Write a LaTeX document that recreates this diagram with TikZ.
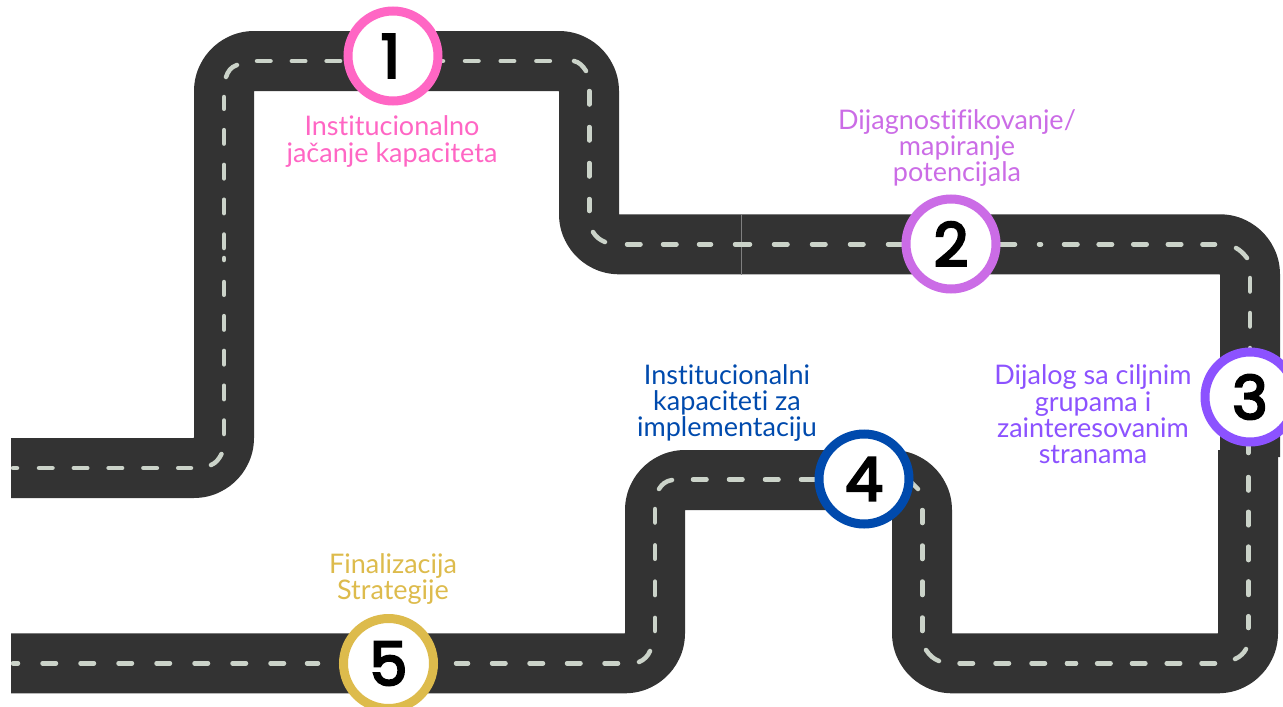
\documentclass[tikz,border=0pt]{standalone}
\usepackage{fontspec}
\setmainfont[Ligatures=NoCommon]{Lato}
\newfontfamily\numfont[FakeBold=4]{Poppins}
\definecolor{roadc}{HTML}{333333}
\definecolor{dashc}{HTML}{CBD3C9}
\definecolor{cpink}{HTML}{FF66C4}
\definecolor{cmauve}{HTML}{CB6CE6}
\definecolor{cviolet}{HTML}{8C52FF}
\definecolor{cblue}{HTML}{004AAD}
\definecolor{cgold}{HTML}{DDBB4C}
\tikzset{
 x=1pt,y=-1pt,
 road/.style={draw=roadc,line width=60pt,line join=round,rounded corners=30pt},
 lanedash/.style={draw=dashc,line width=4.5pt,line cap=round,dash pattern=on 13.5pt off #1pt},
 lanebit/.style={draw=dashc,line width=4.5pt,line cap=round},
 stopmark/.style={circle,draw=#1,line width=9pt,fill=white,minimum size=90pt,inner sep=0pt,font=\numfont\fontsize{60}{60}\selectfont,text=black},
 lbl/.style={align=center,text=#1,font=\fontsize{27}{26.3}\selectfont,inner sep=0pt},
}
\begin{document}
\begin{tikzpicture}
\useasboundingbox (0,0) rectangle (1283,707);
\clip (0,0) rectangle (1283,707);
\draw[road] (11,468) -- (224,468) -- (224,61) -- (589,61) -- (589,244.3) -- (1250,244.3) -- (1250,457);
\draw[road] (1248,450) -- (1248,663.3) -- (922,663.3) -- (922,480) -- (655,480) -- (655,663.3) -- (11,663.3);
\draw[thin,draw=gray] (741.5,214) -- (741.5,274.5);
% lane markings: first leg
\draw[lanebit] (13,468) -- (17,468);
\draw[lanedash=21.3] (39,468) -- (191,468);
\draw[lanebit] (211,465) .. controls (216,463) and (219,459) .. (221.5,454);
\draw[lanedash=21.3] (224,434) -- (224,282);
\draw[lanebit] (224,258) -- (224,260);
\draw[lanedash=21.3] (224,248) -- (224,97);
\draw[lanebit] (226,77) .. controls (228,71) and (231,67) .. (237,65);
\draw[lanedash=21.3] (257,61) -- (345,61);
\draw[lanebit] (436,61) -- (443,61);
\draw[lanedash=22.2] (465,61) -- (551,61);
\draw[lanebit] (574,61) .. controls (579,62) and (583,66) .. (586,71);
\draw[lanedash=22.5] (589.3,91) -- (589.3,211);
\draw[lanebit] (593,232) .. controls (596,237) and (600,240) .. (605,242);
\draw[lanedash=22.5] (627,244.3) -- (711,244.3);
\draw[lanebit] (735,244.3) -- (750,244.3);
\draw[lanedash=24.5] (774,244.3) -- (905,244.3);
\draw[lanebit] (995,244.3) -- (1015,244.3);
\draw[lanebit] (1039,244.3) -- (1041,244.3);
\draw[lanedash=21.1] (1064,244.3) -- (1215,244.3);
\draw[lanebit] (1236,248) .. controls (1240,250) and (1244,254) .. (1247,258);
\draw[lanedash=21.5] (1250,278) -- (1250,360);
\draw[lanebit] (1248.3,440) -- (1248.3,453);
\draw[lanedash=21.3] (1248.3,477) -- (1248.3,628);
\draw[lanebit] (1246,649) .. controls (1244,653) and (1240,657) .. (1235,659);
\draw[lanedash=21.3] (1215,663.3) -- (1067,663.3);
\draw[lanebit] (1076,663.3) -- (1067,663.3);
\draw[lanedash=22.5] (1045,663.3) -- (959,663.3);
\draw[lanebit] (939,661) .. controls (934,659) and (930,656) .. (926,650);
\draw[lanedash=22.5] (922.3,631) -- (922.3,510);
\draw[lanebit] (918,489) -- (908,479);
\draw[lanedash=22.5] (693,479.5) -- (820,479.5);
\draw[lanebit] (672,480) .. controls (666,481) and (662,484) .. (659,489);
\draw[lanedash=22.8] (655,509) -- (655,631);
\draw[lanebit] (650,651) .. controls (648,656) and (644,660) .. (639,662);
\draw[lanedash=24] (618,663.3) -- (456,663.3);
\draw[lanebit] (318,663.3) -- (307,663.3);
\draw[lanedash=24.5] (284,663.3) -- (42,663.3);
\draw[lanebit] (13,663.3) -- (18,663.3);
% stops
\node[stopmark=cpink] (s1) at (393,56) {\hspace*{-5pt}1};
\node[stopmark=cmauve] (s2) at (951,244) {2};
\node[stopmark=cviolet] (s3) at (1250,397) {3};
\node[stopmark=cblue] (s4) at (864,479) {4};
\node[stopmark=cgold] (s5) at (388.5,663.5) {5};
% labels
\node[lbl=cpink] (l1) at (392,141.5) {Institucionalno\\jačanje kapaciteta};
\node[lbl=cmauve] (l2) at (957,148) {Dijagnostifikovanje/\\mapiranje\\potencijala};
\node[lbl=cviolet] (l3) at (1093,414.5) {Dijalog sa ciljnim\\grupama i\\zainteresovanim\\stranama};
\node[lbl=cblue] (l4) at (727,403) {Institucionalni\\kapaciteti za\\implementaciju};
\node[lbl=cgold] (l5) at (393,579) {Finalizacija\\Strategije};
\end{tikzpicture}
\end{document}
